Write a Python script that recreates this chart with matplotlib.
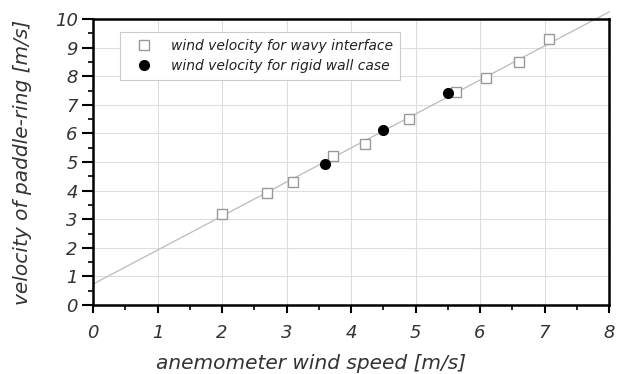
import matplotlib
matplotlib.use("Agg")
import matplotlib.pyplot as plt
from matplotlib.ticker import MultipleLocator

# wind velocity, wavy interface (open squares)
wavy_x = [2.0, 2.7, 3.1, 3.72, 4.21, 4.9, 5.63, 6.1, 6.6, 7.07]
wavy_y = [3.18, 3.9, 4.31, 5.2, 5.63, 6.5, 7.46, 7.95, 8.49, 9.31]

# wind velocity, rigid wall case (filled circles)
rigid_x = [3.6, 4.49, 5.5]
rigid_y = [4.93, 6.12, 7.4]

# linear fit line
fit_x = [0.0, 8.0]
fit_intercept = 0.73
fit_slope = 1.19

fig = plt.figure(figsize=(6.18, 3.74), dpi=100)
ax = fig.add_axes([0.1505, 0.1845, 0.835, 0.7645])

fit_y = [fit_intercept + fit_slope * x for x in fit_x]
ax.plot(fit_x, fit_y, color="#bbbbbb", lw=0.9, clip_on=False, zorder=2)

ax.plot(wavy_x, wavy_y, ls="none", marker="s", ms=7, mfc="white", mec="#999999",
        mew=1.0, label="wind velocity for wavy interface", zorder=3)
ax.plot(rigid_x, rigid_y, ls="none", marker="o", ms=7, mfc="black", mec="black",
        label="wind velocity for rigid wall case", zorder=4)

ax.set_xlim(0, 8)
ax.set_ylim(0, 10)
ax.xaxis.set_major_locator(MultipleLocator(1))
ax.xaxis.set_minor_locator(MultipleLocator(0.5))
ax.yaxis.set_major_locator(MultipleLocator(1))
ax.yaxis.set_minor_locator(MultipleLocator(0.5))
ax.grid(True, which="major", color="#dddddd", lw=0.8)
ax.set_axisbelow(True)

for s in ax.spines.values():
    s.set_linewidth(1.8)
ax.tick_params(which="major", direction="out", length=6, width=1.5, labelsize=13)
ax.tick_params(which="minor", direction="out", length=3.5, width=1.2)
ax.tick_params(axis="x", which="major", pad=8)
ax.tick_params(axis="y", which="major", length=8, pad=3)
for lab in ax.get_xticklabels() + ax.get_yticklabels():
    lab.set_fontstyle("italic")
    lab.set_color("#333333")

ax.set_xlabel("anemometer wind speed [m/s]", fontsize=14.5, fontstyle="italic", color="#333333")
ax.set_ylabel("velocity of paddle-ring [m/s]", fontsize=14.5, fontstyle="italic", color="#333333")
ax.xaxis.set_label_coords(0.422, -0.17)
ax.yaxis.set_label_coords(-0.119, 0.5)

leg = ax.legend(loc="upper left", bbox_to_anchor=(0.0523, 0.9545), borderaxespad=0,
                fancybox=False, framealpha=1, edgecolor="#cccccc",
                prop={"size": 10, "style": "italic"},
                handlelength=2.5, handletextpad=0.7, borderpad=0.5, labelspacing=0.45)
leg.get_frame().set_linewidth(0.8)
for t in leg.get_texts():
    t.set_color("#222222")

fig.savefig("out.png", dpi=100)
